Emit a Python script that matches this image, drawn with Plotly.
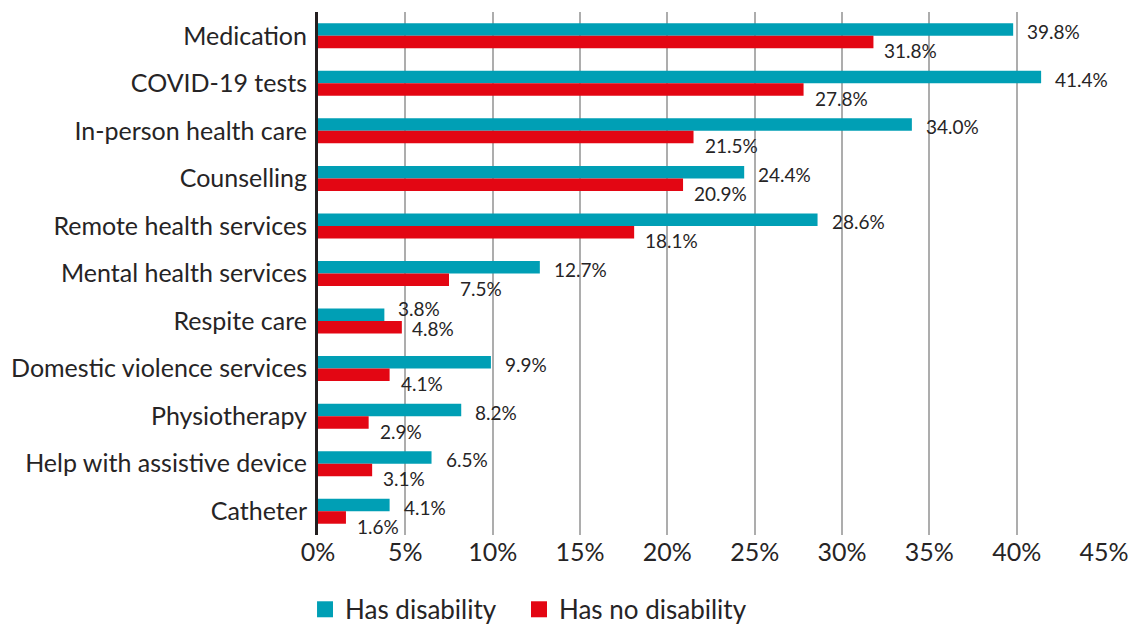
import plotly.graph_objects as go

# Service categories, top to bottom
categories = [
    "Medication",
    "COVID-19 tests",
    "In-person health care",
    "Counselling",
    "Remote health services",
    "Mental health services",
    "Respite care",
    "Domestic violence services",
    "Physiotherapy",
    "Help with assistive device",
    "Catheter",
]

# Percentages by group
has_disability = [39.8, 41.4, 34.0, 24.4, 28.6, 12.7, 3.8, 9.9, 8.2, 6.5, 4.1]
no_disability = [31.8, 27.8, 21.5, 20.9, 18.1, 7.5, 4.8, 4.1, 2.9, 3.1, 1.6]

series_names = ["Has disability", "Has no disability"]

x_ticks = [0, 5, 10, 15, 20, 25, 30, 35, 40, 45]
x_tick_text = [f"{t}%" for t in x_ticks]

TEAL = "#009FB5"
RED = "#E30613"
TEXT = "#262425"
FONT = "Lato"

fig = go.Figure()
for name, vals, col in zip(series_names, [has_disability, no_disability], [TEAL, RED]):
    fig.add_trace(go.Bar(
        y=categories, x=vals, orientation="h", name=name,
        marker=dict(color=col, line=dict(width=0)), showlegend=False,
    ))

# Legend keys drawn as larger square swatches, one legend box per series
for name, col, leg in zip(series_names, [TEAL, RED], ["legend", "legend2"]):
    fig.add_trace(go.Scatter(
        x=[None], y=[None], mode="markers", name=name, legend=leg,
        marker=dict(symbol="square", size=16, color=col, line=dict(width=0)),
        showlegend=True, hoverinfo="skip",
    ))

# Value labels: disability labels sit beside their bar,
# no-disability labels sit just below and to the right of theirs
annotations = []
for cat, a, b in zip(categories, has_disability, no_disability):
    if cat == "Respite care":
        a_shift, b_shift, b_x = 13, -7, 8
    else:
        a_shift, b_shift, b_x = 4, -15, 9
    annotations.append(dict(
        x=a, y=cat, text=f"{a:.1f}%", showarrow=False,
        xanchor="left", yanchor="middle", xshift=12, yshift=a_shift,
        font=dict(size=19, color=TEXT, family=FONT),
    ))
    annotations.append(dict(
        x=b, y=cat, text=f"{b:.1f}%", showarrow=False,
        xanchor="left", yanchor="middle", xshift=b_x, yshift=b_shift,
        font=dict(size=19, color=TEXT, family=FONT),
    ))

legend_style = dict(
    orientation="h", xanchor="left",
    yref="container", y=0.025, yanchor="middle",
    font=dict(size=26, color=TEXT, family=FONT),
    bgcolor="rgba(0,0,0,0)",
)

fig.update_layout(
    width=1139, height=625,
    margin=dict(l=318, r=35, t=12, b=90, autoexpand=False),
    paper_bgcolor="white", plot_bgcolor="white",
    barmode="group", bargap=0.474, bargroupgap=0,
    font=dict(family=FONT, size=25, color=TEXT),
    annotations=annotations,
    legend=dict(x=-0.0165, **legend_style),
    legend2=dict(x=0.2557, **legend_style),
    showlegend=True,
)
fig.update_xaxes(
    range=[0, 45], tickvals=x_ticks, ticktext=x_tick_text,
    showgrid=True, gridcolor="#ADADAD", gridwidth=1.5,
    zeroline=False, showline=False, ticks="",
    tickfont=dict(size=25, color=TEXT, family=FONT),
)
fig.update_yaxes(
    range=[10.5, -0.5], showgrid=False, ticks="",
    showline=True, linecolor="#231F20", linewidth=3,
    tickfont=dict(size=25, color=TEXT, family=FONT),
    ticklabelstandoff=3,
)

fig.write_html("out.html")
